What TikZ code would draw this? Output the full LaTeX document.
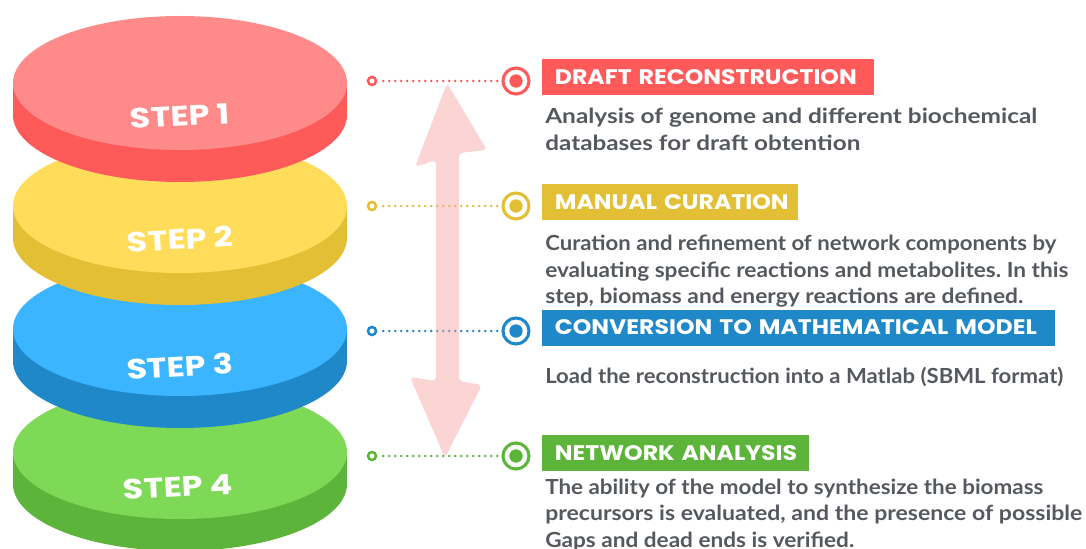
\documentclass[tikz,border=0pt]{standalone}
\usepackage{fontspec}
\usepackage{graphicx}
\setmainfont{Lato}
\newfontfamily\stepfont{Poppins}[FakeStretch=1.2]
\newfontfamily\hdrfont{Poppins}[FakeStretch=1.12]
\frenchspacing
\definecolor{redTop}{HTML}{FF8A8A}
\definecolor{redSide}{HTML}{FF5A5A}
\definecolor{yelTop}{HTML}{FFDC5A}
\definecolor{yelSide}{HTML}{E3BF35}
\definecolor{bluTop}{HTML}{3BB5FF}
\definecolor{bluSide}{HTML}{1F88C8}
\definecolor{grnTop}{HTML}{7ED957}
\definecolor{grnSide}{HTML}{5DB43A}
\definecolor{bodyGray}{HTML}{55595E}
\definecolor{pinkArrow}{HTML}{F7A0A0}
\newcommand{\fitline}[2]{\resizebox{#1pt}{\height}{#2}}
\tikzset{
  steplabel/.style={text=white, font=\stepfont\bfseries\fontsize{21}{24}\selectfont, rotate=3, inner sep=0pt},
  hdr/.style={anchor=west, text=white, font=\hdrfont\bfseries\fontsize{15.8}{17}\selectfont, minimum height=27pt, inner ysep=0pt, inner xsep=9.5pt, align=left},
  body/.style={anchor=north west, inner sep=0pt, text=bodyGray, align=left, font=\bfseries\fontsize{15.6}{19.7}\selectfont\frenchspacing},
  smalldot/.style={circle, draw=#1, fill=white, line width=1.9pt, minimum size=6pt, inner sep=0pt},
  target/.style={circle, draw=#1, fill=white, line width=2.3pt, minimum size=19.5pt, inner sep=0pt},
  targetdot/.style={circle, fill=#1, minimum size=10pt, inner sep=0pt},
  dotline/.style={draw=#1, line width=2.2pt, line cap=round, dash pattern=on 0pt off 4.5pt},
}
\begin{document}
\begin{tikzpicture}[x=0.75pt,y=-0.75pt]
\useasboundingbox (0,0) rectangle (1086,549);
% disks (bottom to top)
\newcommand{\mydisk}[3]{%
  \fill[#3] (180,#1+32) ellipse[x radius=125.25pt,y radius=50.25pt];
  \fill[#3] (13,#1) rectangle (347,#1+32);
  \fill[#2] (180,#1) ellipse[x radius=125.25pt,y radius=50.25pt];
}
\mydisk{452}{grnTop}{grnSide}
\node[steplabel] (s4) at (178,487) {STEP 4};
\mydisk{329}{bluTop}{bluSide}
\node[steplabel] (s3) at (180,366) {STEP 3};
\mydisk{206}{yelTop}{yelSide}
\node[steplabel] (s2) at (180,239) {STEP 2};
\mydisk{83}{redTop}{redSide}
\node[steplabel] (s1) at (180,116) {STEP 1};

% connectors
\node[smalldot=redSide] (a1) at (372,81) {};
\node[target=redSide] (b1) at (516,81) {};
\node[targetdot=redSide] (c1) at (516,81) {};
\node[smalldot=yelSide] (a2) at (372,206) {};
\node[target=yelSide] (b2) at (516,206) {};
\node[targetdot=yelSide] (c2) at (516,206) {};
\node[smalldot=bluSide] (a3) at (372,331) {};
\node[target=bluSide] (b3) at (516,331) {};
\node[targetdot=bluSide] (c3) at (516,331) {};
\node[smalldot=grnSide] (a4) at (372,456) {};
\node[target=grnSide] (b4) at (516,456) {};
\node[targetdot=grnSide] (c4) at (516,456) {};
\draw[dotline=redSide] (a1.east) ++(6,0) -- (b1.west);
\draw[dotline=yelSide] (a2.east) ++(6,0) -- (b2.west);
\draw[dotline=bluSide] (a3.east) ++(6,0) -- (b3.west);
\draw[dotline=grnSide] (a4.east) ++(6,0) -- (b4.west);

% pink double arrow
\fill[pinkArrow, opacity=0.45, rounded corners=3pt]
  (447,83) -- (487,150) -- (459,153) -- (459,381) -- (482,385) -- (445,458)
  -- (410,377) -- (436,381) -- (436,160) -- (415,167) -- cycle;

% headings
\node[hdr, fill=redSide, text width=230pt] (h1) at (542,77.5) {\mbox{DRAFT RECONSTRUCTION}};
\node[hdr, fill=yelSide, text width=173pt] (h2) at (542,202.5) {\mbox{MANUAL CURATION}};
\node[hdr, fill=bluSide, text width=365.75pt] (h3) at (542,327.5) {\mbox{CONVERSION TO MATHEMATICAL MODEL}};
\node[hdr, fill=grnSide, text width=181.25pt] (h4) at (542,453) {\mbox{NETWORK ANALYSIS}};

% body texts
\node[body] (t1) at (545,107.5) {\fitline{369}{Analysis of genome and different biochemical}\\[0.6pt]\fitline{236.25}{databases for draft obtention}};
\node[body] (t2) at (545,235) {\fitline{383.25}{Curation and refinement of network components by}\\\fitline{392.25}{evaluating specific reactions and metabolites. In this}\\\fitline{358.5}{step, biomass and energy reactions are defined.}};
\node[body] (t3) at (545,367) {\fitline{388.5}{Load the reconstruction into a Matlab (SBML format)}};
\node[body] (t4) at (545,479) {\fitline{373.5}{The ability of the model to synthesize the biomass}\\\fitline{402.75}{precursors is evaluated, and the presence of possible}\\\fitline{231.75}{Gaps and dead ends is verified.}};
\end{tikzpicture}
\end{document}
